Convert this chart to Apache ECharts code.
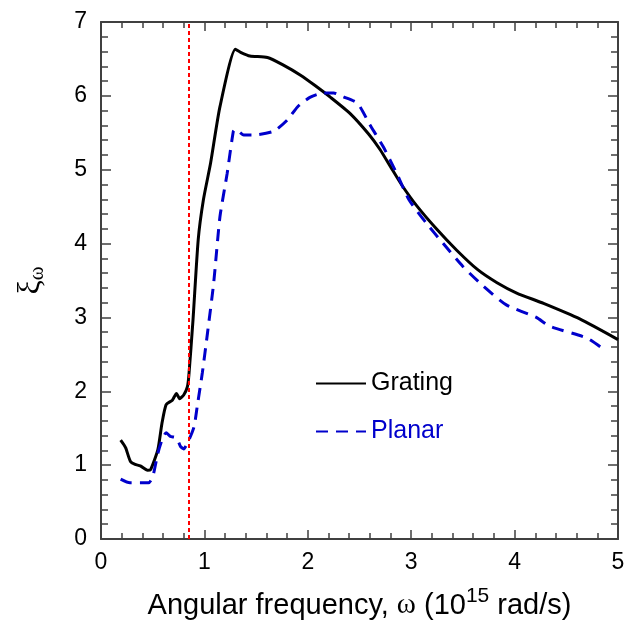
<!DOCTYPE html>
<html>
<head>
<meta charset="utf-8">
<script src="https://cdn.jsdelivr.net/npm/echarts@6/dist/echarts.min.js"></script>
<style>
  html, body { margin: 0; padding: 0; background: #fff; }
  #chart { width: 629px; height: 620px; }
</style>
</head>
<body>
<div id="chart"></div>
<script>
const gratingX = [0.19, 0.22, 0.24, 0.285, 0.33, 0.38, 0.45, 0.48, 0.55, 0.59, 0.63, 0.69, 0.73, 0.76, 0.80, 0.835, 0.85, 0.89, 0.94, 0.99, 1.06, 1.15, 1.30, 1.35, 1.44, 1.61, 1.76, 1.93, 2.07, 2.22, 2.41, 2.59, 2.70, 2.80, 2.91, 3.06, 3.25, 3.44, 3.64, 3.83, 4.02, 4.28, 4.63, 5.0];
const gratingY = [1.34, 1.28, 1.23, 1.05, 1.01, 0.99, 0.93, 0.94, 1.21, 1.57, 1.82, 1.88, 1.97, 1.90, 1.95, 2.06, 2.22, 2.97, 4.05, 4.59, 5.09, 5.85, 6.63, 6.59, 6.54, 6.52, 6.42, 6.28, 6.14, 5.98, 5.76, 5.48, 5.27, 5.04, 4.79, 4.50, 4.19, 3.91, 3.65, 3.47, 3.33, 3.19, 2.98, 2.70];

const planarX = [0.19, 0.28, 0.46, 0.50, 0.55, 0.59, 0.63, 0.67, 0.73, 0.77, 0.80, 0.85, 0.90, 0.93, 0.98, 1.03, 1.09, 1.15, 1.22, 1.28, 1.30, 1.38, 1.47, 1.67, 1.80, 1.90, 2.02, 2.15, 2.25, 2.34, 2.48, 2.60, 2.73, 2.86, 2.98, 3.15, 3.31, 3.50, 3.70, 3.92, 4.21, 4.34, 4.70, 4.89];
const planarY = [0.81, 0.76, 0.76, 0.84, 1.16, 1.34, 1.44, 1.39, 1.37, 1.25, 1.22, 1.34, 1.52, 1.79, 2.25, 2.79, 3.47, 4.36, 4.95, 5.52, 5.55, 5.47, 5.47, 5.52, 5.67, 5.85, 5.98, 6.04, 6.04, 5.99, 5.90, 5.61, 5.31, 4.95, 4.59, 4.27, 4.00, 3.69, 3.42, 3.17, 3.00, 2.88, 2.72, 2.54];

const cutoffX = 0.85;
const seriesNames = ['Grating', 'Planar'];

const zip = (xs, ys) => xs.map((x, i) => [x, ys[i]]);

const font = 'Liberation Sans, Arial, sans-serif';
const serif = 'Liberation Serif, Times New Roman, serif';
const axisColor = '#404040';

const myChart = echarts.init(document.getElementById('chart'));

const xBase = {
  type: 'value',
  min: 0,
  max: 5,
  interval: 1,
  axisLine: { show: true, onZero: false, lineStyle: { color: axisColor, width: 2 } },
  axisTick: { show: true, inside: true, length: 9, lineStyle: { color: axisColor, width: 1.5 } },
  minorTick: { show: true, splitNumber: 5, length: 6, lineStyle: { color: axisColor, width: 1.5 } },
  splitLine: { show: false },
};
const yBase = {
  type: 'value',
  min: 0,
  max: 7,
  interval: 1,
  axisLine: { show: true, onZero: false, lineStyle: { color: axisColor, width: 2 } },
  axisTick: { show: true, inside: true, length: 10, lineStyle: { color: axisColor, width: 1.5 } },
  minorTick: { show: true, splitNumber: 5, length: 7, lineStyle: { color: axisColor, width: 1.5 } },
  splitLine: { show: false },
};

const option = {
  animation: false,
  backgroundColor: '#fff',
  grid: {
    left: 101,
    right: 11,
    top: 22,
    bottom: 81,
    outerBoundsMode: 'none',
  },
  legend: {
    orient: 'vertical',
    left: 310,
    top: 366,
    itemWidth: 50,
    itemHeight: 14,
    itemGap: 23,
    itemStyle: { opacity: 0 },
    textStyle: { fontFamily: font, fontSize: 25, color: '#000' },
    data: [
      { name: 'Grating', textStyle: { color: '#000' } },
      { name: 'Planar', textStyle: { color: '#0000cc' } },
    ],
  },
  xAxis: [
    Object.assign({}, xBase, {
      position: 'bottom',
      axisLabel: { color: '#000', fontFamily: font, fontSize: 23, margin: 12 },
      name: '{a|Angular frequency, }{w|ω}{a| (10}{sup|15}{a| rad/s)}',
      nameLocation: 'middle',
      nameGap: 47,
      nameTextStyle: {
        rich: {
          a: { fontFamily: font, fontSize: 29, color: '#000', verticalAlign: 'bottom' },
          w: { fontFamily: serif, fontSize: 29, color: '#000', verticalAlign: 'bottom' },
          sup: { fontFamily: font, fontSize: 21, color: '#000', verticalAlign: 'top', padding: [0, 0, 13, 0] },
        },
      },
    }),
    Object.assign({}, xBase, {
      position: 'top',
      axisLabel: { show: false },
    }),
  ],
  yAxis: [
    Object.assign({}, yBase, {
      position: 'left',
      axisLabel: { color: '#000', fontFamily: font, fontSize: 23, margin: 14 },
      name: '{a|ξ}{sub|ω}',
      nameLocation: 'middle',
      nameRotate: 90,
      nameGap: 53,
      nameTextStyle: {
        rich: {
          a: { fontFamily: serif, fontSize: 32, color: '#000' },
          sub: { fontFamily: serif, fontSize: 21, color: '#000', padding: [14, 0, 0, 0] },
        },
      },
    }),
    Object.assign({}, yBase, {
      position: 'right',
      axisLabel: { show: false },
    }),
  ],
  series: [
    {
      name: seriesNames[0],
      type: 'line',
      xAxisIndex: 0,
      yAxisIndex: 0,
      data: zip(gratingX, gratingY),
      showSymbol: false,
      symbol: 'none',
      smooth: 0.2,
      lineStyle: { color: '#000', width: 3 },
      itemStyle: { color: '#000' },
      markLine: {
        silent: true,
        symbol: 'none',
        label: { show: false },
        lineStyle: { color: '#ff0000', type: [4, 3], width: 2 },
        data: [{ xAxis: cutoffX }],
      },
    },
    {
      name: seriesNames[1],
      type: 'line',
      xAxisIndex: 0,
      yAxisIndex: 0,
      data: zip(planarX, planarY),
      showSymbol: false,
      symbol: 'none',
      smooth: 0.2,
      lineStyle: { color: '#0000cc', width: 3, type: [12, 8] },
      itemStyle: { color: '#0000cc' },
    },
  ],
};

myChart.setOption(option);
</script>
</body>
</html>
